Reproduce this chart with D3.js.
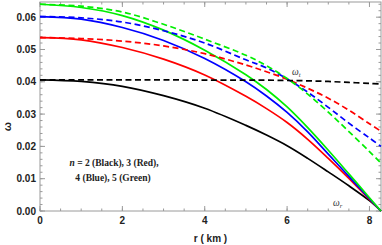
<!DOCTYPE html>
<html>
<head>
<meta charset="utf-8">
<script src="https://cdn.jsdelivr.net/npm/d3@7"></script>
<style>
  body { margin: 0; background: #fff; }
  svg { display: block; }
  .tick-label { font-family: "Liberation Sans", Arial, sans-serif; font-weight: bold; font-size: 10px; fill: #222; }
  .note { font-family: "Liberation Serif", "DejaVu Serif", serif; font-weight: bold; font-size: 9.5px; fill: #222; }
  .curve-label { font-family: "Liberation Serif", "DejaVu Serif", serif; font-style: italic; font-size: 9.5px; fill: #333; }
</style>
</head>
<body>
<script>
// valores (r em km)
const radius = [0, 1, 2, 3, 4, 5, 5.5, 6, 6.5, 7, 7.5, 8, 8.28];

// omega_r (linhas contínuas)
const omegaRBlack = [0.0406, 0.0401, 0.0386, 0.0357, 0.0318, 0.0265, 0.0235, 0.0202, 0.0163, 0.0121, 0.0078, 0.0032, 0];
const omegaRRed   = [0.0537, 0.0530, 0.0506, 0.0470, 0.0421, 0.0355, 0.0317, 0.0274, 0.0222, 0.0163, 0.0101, 0.0036, 0];
const omegaRBlue  = [0.0602, 0.0594, 0.0568, 0.0528, 0.0472, 0.0400, 0.0356, 0.0305, 0.0245, 0.0176, 0.0107, 0.0038, 0];
const omegaRGreen = [0.0640, 0.0630, 0.0605, 0.0560, 0.0498, 0.0422, 0.0376, 0.0322, 0.0258, 0.0188, 0.0115, 0.0041, 0];

// omega_t (linhas tracejadas)
const omegaTBlack = [0.0406, 0.0406, 0.0406, 0.0406, 0.0405, 0.0405, 0.0405, 0.0404, 0.0403, 0.0401, 0.0398, 0.0395, 0.0393];
const omegaTRed   = [0.0537, 0.0534, 0.0526, 0.0511, 0.0487, 0.0452, 0.0431, 0.0408, 0.0380, 0.0349, 0.0312, 0.0270, 0.0247];
const omegaTBlue  = [0.0602, 0.0598, 0.0585, 0.0558, 0.0520, 0.0468, 0.0443, 0.0409, 0.0368, 0.0321, 0.0272, 0.0226, 0.0200];
const omegaTGreen = [0.0640, 0.0634, 0.0616, 0.0578, 0.0532, 0.0482, 0.0450, 0.0410, 0.0362, 0.0306, 0.0246, 0.0184, 0.0148];

const xTicks = [0, 2, 4, 6, 8];
const yTicks = [0, 0.01, 0.02, 0.03, 0.04, 0.05, 0.06];
const noteLines = ['2 (Black), 3 (Red),', '4 (Blue), 5 (Green)'];

const width = 382, height = 245;
const frame = { left: 40, right: 381, top: 2, bottom: 211 };

const svg = d3.select('body')
  .append('svg')
  .attr('width', width)
  .attr('height', height);

const x = d3.scaleLinear().domain([0, 8.28]).range([frame.left, frame.right]);
const y = d3.scaleLinear().domain([0, 0.0647]).range([frame.bottom, frame.top]);

// moldura com ticks para dentro (nos quatro lados)
const xMinor = d3.range(0, 8.3, 0.5);
const yMinor = d3.range(0, 0.0647, 0.002);
const axisColor = '#9a9a9a';

const frameG = svg.append('g').attr('class', 'frame');
frameG.append('rect')
  .attr('x', frame.left).attr('y', frame.top)
  .attr('width', frame.right - frame.left)
  .attr('height', frame.bottom - frame.top)
  .attr('fill', 'none')
  .attr('stroke', axisColor)
  .attr('stroke-width', 1);

function drawXTicks(values, len) {
  values.forEach(v => {
    const px = x(v);
    frameG.append('line').attr('x1', px).attr('x2', px)
      .attr('y1', frame.bottom).attr('y2', frame.bottom - len)
      .attr('stroke', axisColor);
    frameG.append('line').attr('x1', px).attr('x2', px)
      .attr('y1', frame.top).attr('y2', frame.top + len)
      .attr('stroke', axisColor);
  });
}
function drawYTicks(values, len) {
  values.forEach(v => {
    const py = y(v);
    frameG.append('line').attr('y1', py).attr('y2', py)
      .attr('x1', frame.left).attr('x2', frame.left + len)
      .attr('stroke', axisColor);
    frameG.append('line').attr('y1', py).attr('y2', py)
      .attr('x1', frame.right).attr('x2', frame.right - len)
      .attr('stroke', axisColor);
  });
}
drawXTicks(xMinor, 2.5);
drawXTicks(xTicks, 5);
drawYTicks(yMinor, 2.5);
drawYTicks(yTicks, 5);

// rótulos dos eixos
svg.append('g').selectAll('text')
  .data(xTicks)
  .join('text')
  .attr('class', 'tick-label')
  .attr('x', d => x(d))
  .attr('y', frame.bottom + 13)
  .attr('text-anchor', 'middle')
  .text(d => d);

svg.append('g').selectAll('text')
  .data(yTicks)
  .join('text')
  .attr('class', 'tick-label')
  .attr('x', frame.left - 4)
  .attr('y', d => y(d) + 3.5)
  .attr('text-anchor', 'end')
  .text(d => d.toFixed(2));

svg.append('text')
  .attr('class', 'tick-label')
  .attr('x', (frame.left + frame.right) / 2)
  .attr('y', 242)
  .attr('text-anchor', 'middle')
  .text('r ( km )');

svg.append('text')
  .attr('class', 'tick-label')
  .attr('transform', `translate(11, ${(frame.top + frame.bottom) / 2 + 20}) rotate(-90)`)
  .attr('text-anchor', 'middle')
  .style('font-size', '11px')
  .text('ω');

// curvas
const series = [
  { values: omegaRBlack, color: '#000000', dashed: false },
  { values: omegaRRed,   color: '#ff0000', dashed: false },
  { values: omegaRBlue,  color: '#0000ff', dashed: false },
  { values: omegaRGreen, color: '#00ee00', dashed: false },
  { values: omegaTRed,   color: '#ff0000', dashed: true },
  { values: omegaTBlue,  color: '#0000ff', dashed: true },
  { values: omegaTGreen, color: '#00ee00', dashed: true },
  { values: omegaTBlack, color: '#000000', dashed: true }
];

const line = d3.line()
  .x((d, i) => x(radius[i]))
  .y(d => y(d))
  .curve(d3.curveCatmullRom.alpha(0.5));

const plot = svg.append('g').attr('class', 'curves');
plot.selectAll('path')
  .data(series)
  .join('path')
  .attr('d', d => line(d.values))
  .attr('fill', 'none')
  .attr('stroke', d => d.color)
  .attr('stroke-width', 1.7)
  .attr('stroke-dasharray', d => d.dashed ? '6,3.5' : null);

// anotações
const note = svg.append('text').attr('class', 'note').attr('text-anchor', 'middle');
note.append('tspan')
  .attr('x', 114).attr('y', 166)
  .html('<tspan font-style="italic">n</tspan> = ' + noteLines[0]);
note.append('tspan')
  .attr('x', 113).attr('y', 181)
  .text(noteLines[1]);

const lt = svg.append('text').attr('class', 'curve-label').attr('x', 292).attr('y', 75);
lt.append('tspan').text('ω');
lt.append('tspan').attr('font-size', '6.5px').attr('dy', 2).text('t');

const lr = svg.append('text').attr('class', 'curve-label').attr('x', 333).attr('y', 206);
lr.append('tspan').text('ω');
lr.append('tspan').attr('font-size', '6.5px').attr('dy', 2).text('r');
</script>
</body>
</html>
